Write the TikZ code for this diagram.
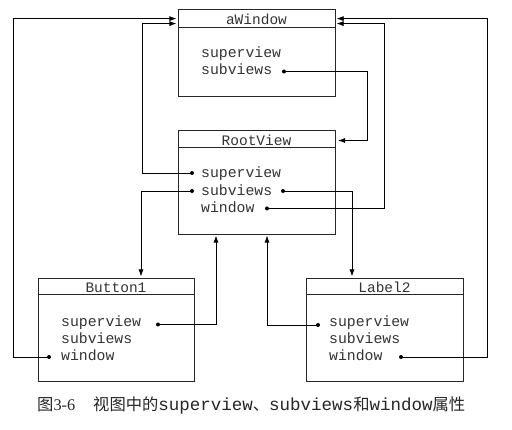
\documentclass[tikz,border=0pt]{standalone}
\usepackage{fontspec}
\setmonofont{Liberation Mono}
\newfontfamily\cjk{Noto Sans CJK SC}
\newfontfamily\lser{Liberation Serif}
\usetikzlibrary{arrows.meta,calc}
\newcommand{\capcj}[1]{{\cjk\fontsize{16.3}{16.3}\selectfont #1}}
\newcommand{\captt}[1]{{\ttfamily\fontsize{17.5}{17.5}\selectfont #1}}
\begin{document}
\begin{tikzpicture}[x=1pt,y=-1pt,
  box/.style={draw=black!85,line width=0.8pt,minimum width=157pt,inner sep=0},
  hdr/.style={draw=black!85,line width=0.8pt},
  ttl/.style={font=\ttfamily\fontsize{14.5}{14.5}\selectfont,text=black!80,inner sep=0},
  fld/.style={anchor=mid west,font=\ttfamily\fontsize{14.8}{14.8}\selectfont,text=black!80,inner sep=0},
  dot/.style={circle,fill=black,inner sep=0,minimum size=4pt},
  arr/.style={draw=black,line width=0.7pt,-{Latex[length=7pt,width=5pt]},shorten >=1.2pt},
  ln/.style={draw=black,line width=0.7pt}]
\useasboundingbox (0,0) rectangle (512,430);
% boxes
\node[box,minimum height=87pt] (aw) at (256.5,52.5) {};
\node[box,minimum height=104pt] (rv) at (256.5,182) {};
\node[box,minimum width=156pt,minimum height=103pt] (bt) at (116,329.5) {};
\node[box,minimum height=103pt] (lb) at (384.5,329.5) {};
\draw[hdr] ($(aw.north west)+(0,19)$) -- ($(aw.north east)+(0,19)$);
\draw[hdr] ($(rv.north west)+(0,18)$) -- ($(rv.north east)+(0,18)$);
\draw[hdr] ($(bt.north west)+(0,17)$) -- ($(bt.north east)+(0,17)$);
\draw[hdr] ($(lb.north west)+(0,17)$) -- ($(lb.north east)+(0,17)$);
% titles
\node[ttl] (awt) at (256.5,19.5) {aWindow};
\node[ttl] (rvt) at (256.5,140.5) {RootView};
\node[ttl] (btt) at (116,287.5) {Button1};
\node[ttl] (lbt) at (384.5,287.5) {Label2};
% fields
\node[fld] (awsup) at (201,55) {superview};
\node[fld] (awsub) at (201,72) {subviews};
\node[fld] (rvsup) at (201,175) {superview};
\node[fld] (rvsub) at (201,193) {subviews};
\node[fld] (rvwin) at (201,210) {window};
\node[fld] (btsup) at (61,324) {superview};
\node[fld] (btsub) at (61,341) {subviews};
\node[fld] (btwin) at (61,358) {window};
\node[fld] (lbsup) at (329,324) {superview};
\node[fld] (lbsub) at (329,341) {subviews};
\node[fld] (lbwin) at (329,358) {window};
% dots
\node[dot] (d1) at (284,71.5) {};
\node[dot] (d2) at (192,173) {};
\node[dot] (d3) at (192,191) {};
\node[dot] (d4) at (283,191) {};
\node[dot] (d5) at (267,208.5) {};
\node[dot] (d6) at (158,324.5) {};
\node[dot] (d7) at (49,357) {};
\node[dot] (d8) at (318,325) {};
\node[dot] (d9) at (401,357) {};
% corner coordinates
\coordinate (c1) at (367,71.5);
\coordinate (c2) at (142,173);
\coordinate (c3) at (384,208.5);
\coordinate (c4) at (141,191);
\coordinate (c5) at (352,191);
\coordinate (c6) at (216,324.5);
\coordinate (c7) at (13,357);
\coordinate (c8) at (267,325);
\coordinate (c9) at (487,357);
% connectors
\draw[arr] (d1.center) -- (c1) |- ([xshift=1.5pt]rvt -| rv.east);
\draw[arr] (d2.center) -- (c2) |- ($(aw.north west)+(0,15)$);
\draw[arr] (d5.center) -- (c3) |- ($(aw.north east)+(0,15)$);
\draw[arr] (d3.center) -- (c4) -- (c4 |- bt.north);
\draw[arr] (d4.center) -- (c5) -- (c5 |- lb.north);
\draw[arr] (d6.center) -- (c6) -- (c6 |- rv.south);
\draw[arr] (d7.center) -- (c7) |- ($(aw.north west)+(0,10)$);
\draw[arr] (d8.center) -- (c8) -- (c8 |- rv.south);
\draw[arr] (d9.center) -- (c9) |- ($(aw.north east)+(0,10)$);
% caption
\node[anchor=base west,inner sep=0,text=black!85] (cap) at (37,411)
  {\capcj{图}{\lser\fontsize{16.3}{16.3}\selectfont 3-6}\hspace{18pt}\capcj{视图中的}\captt{superview}\capcj{、}\captt{subviews}\capcj{和}\captt{window}\capcj{属性}};
\end{tikzpicture}
\end{document}
